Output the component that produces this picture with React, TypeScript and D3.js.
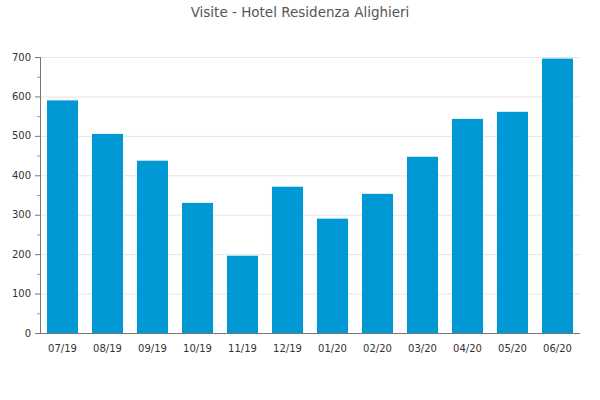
import * as d3 from 'd3'

const months = ['07/19', '08/19', '09/19', '10/19', '11/19', '12/19', '01/20', '02/20', '03/20', '04/20', '05/20', '06/20']
const visits = [590, 505, 437, 330, 196, 371, 290, 353, 447, 543, 561, 696]
const yTicks = [0, 100, 200, 300, 400, 500, 600, 700]
const yMinorTicks = [50, 150, 250, 350, 450, 550, 650]

const W = 600
const H = 400
const m = { top: 57, right: 20, bottom: 67, left: 40 }
const font = '"DejaVu Sans", sans-serif'

export default function App() {
  const x = d3.scaleBand<string>().domain(months).range([m.left, W - m.right]).paddingInner(0.31).paddingOuter(0.155)
  const y = d3.scaleLinear().domain([0, 700]).range([H - m.bottom, m.top])

  return (
    <svg width={W} height={H} style={{ position: 'absolute', left: 0, top: 0, background: '#fff' }}>
      <text x={W / 2} y={17} textAnchor="middle" fontFamily={font} fontSize={13.5} fill="#555">
        Visite - Hotel Residenza Alighieri
      </text>

      {yTicks.map(t => (
        <line key={'g' + t} x1={m.left} x2={W - m.right} y1={y(t) + 0.5} y2={y(t) + 0.5} stroke="#e6e6e6" />
      ))}

      {visits.map((v, i) => (
        <rect key={months[i]} x={x(months[i])} y={y(v)} width={x.bandwidth()} height={y(0) - y(v)} fill="#0099d5" />
      ))}

      <line x1={m.left + 0.5} x2={m.left + 0.5} y1={m.top} y2={y(0)} stroke="#777" />
      <line x1={m.left} x2={W - m.right} y1={y(0) + 0.5} y2={y(0) + 0.5} stroke="#777" />
      {yTicks.map(t => (
        <g key={'t' + t}>
          <line x1={m.left - 5} x2={m.left} y1={y(t) + 0.5} y2={y(t) + 0.5} stroke="#777" />
          <text x={m.left - 9} y={y(t)} dy="0.35em" textAnchor="end" fontFamily={font} fontSize={10} fill="#333">{t}</text>
        </g>
      ))}
      {yMinorTicks.map(t => (
        <line key={'mt' + t} x1={m.left - 3} x2={m.left} y1={y(t) + 0.5} y2={y(t) + 0.5} stroke="#999" />
      ))}
      {months.map(mo => (
        <text key={'x' + mo} x={(x(mo) ?? 0) + x.bandwidth() / 2} y={y(0) + 15} dy="0.35em" textAnchor="middle" fontFamily={font} fontSize={10} fill="#333">{mo}</text>
      ))}
    </svg>
  )
}
